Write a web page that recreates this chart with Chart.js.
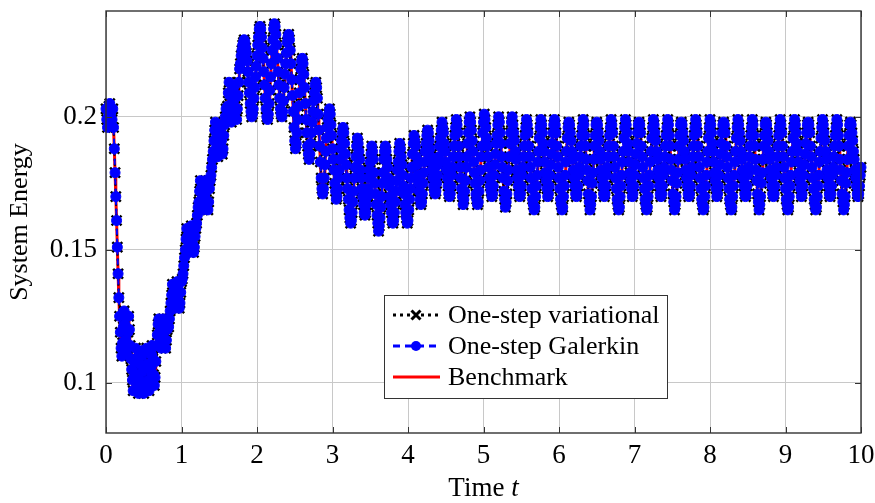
<!DOCTYPE html>
<html>
<head>
<meta charset="utf-8">
<title>System Energy</title>
<script src="https://cdn.jsdelivr.net/npm/chart.js@4.4.1/dist/chart.umd.min.js"></script>
<style>
  html, body { margin: 0; padding: 0; background: #fff; }
  #wrap { width: 875px; height: 503px; }
</style>
</head>
<body>
<div id="wrap"><canvas id="energyChart" width="875" height="503"></canvas></div>
<script>
// Sampling of the curves
const startTime = 0;
const timeStep = 0.01;

// System energy (one value per time step).
// The two one-step schemes and the benchmark lie on top of each other,
// so all three curves use these readings.
const energy = [
  // t = 0.00 .. 0.17 : start and fast drop
  0.203, 0.199, 0.196, 0.200, 0.204, 0.205, 0.201, 0.197, 0.199, 0.203,
  0.196, 0.188, 0.179, 0.170, 0.161, 0.151, 0.141, 0.132,
  // t = 0.18 .. 1.77 : staircase
  0.125, 0.119, 0.113, 0.110, 0.115, 0.121, 0.127, 0.122, 0.116, 0.111,
  0.113, 0.119, 0.125, 0.120, 0.114, 0.109, 0.105, 0.101,
  0.097, 0.102, 0.108, 0.113, 0.109, 0.103, 0.098, 0.096, 0.101, 0.107,
  0.112, 0.110, 0.104, 0.099, 0.096, 0.100, 0.106, 0.112, 0.113, 0.107,
  0.101, 0.097, 0.099, 0.105, 0.111, 0.114, 0.109, 0.103, 0.099, 0.102,
  0.108, 0.114,
  0.118, 0.122, 0.124, 0.119, 0.115, 0.113, 0.117, 0.121, 0.124, 0.120,
  0.116, 0.113, 0.116, 0.120, 0.123, 0.121, 0.124, 0.127, 0.130,
  0.133, 0.137, 0.134, 0.130, 0.128, 0.131, 0.135, 0.138, 0.135, 0.131,
  0.128, 0.130, 0.134, 0.138, 0.139, 0.141, 0.144, 0.147,
  0.150, 0.154, 0.158, 0.155, 0.151, 0.149, 0.152, 0.156, 0.159, 0.156,
  0.152, 0.149, 0.151, 0.155, 0.158, 0.160, 0.163, 0.166,
  0.168, 0.172, 0.176, 0.173, 0.169, 0.165, 0.167, 0.171, 0.175, 0.176,
  0.172, 0.168, 0.165, 0.168, 0.173, 0.176, 0.178, 0.181, 0.184,
  0.187, 0.191, 0.195, 0.198, 0.194, 0.189, 0.185, 0.188, 0.193, 0.197,
  0.196, 0.191, 0.186, 0.188, 0.193, 0.197, 0.200, 0.203,
  0.199, 0.204, 0.209, 0.213, 0.208, 0.203, 0.198, 0.201, 0.206, 0.211,
  0.212, 0.207, 0.202, 0.199, 0.203, 0.208, 0.213, 0.218,
  // t = 1.78 .. 2.95 : peak
  0.220, 0.223, 0.225, 0.227, 0.228, 0.229, 0.228, 0.226,
  0.224, 0.221, 0.217, 0.213, 0.209, 0.205, 0.202, 0.200, 0.201, 0.203,
  0.207, 0.211, 0.215, 0.219, 0.223, 0.227, 0.230, 0.233, 0.234,
  0.233, 0.230, 0.226, 0.222, 0.217, 0.212, 0.207, 0.203, 0.200, 0.199,
  0.201, 0.205, 0.210, 0.215, 0.220, 0.225, 0.229, 0.233, 0.235,
  0.234, 0.231, 0.227, 0.222, 0.217, 0.212, 0.207, 0.203, 0.201, 0.200,
  0.202, 0.206, 0.211, 0.216, 0.220, 0.224, 0.228, 0.230, 0.231,
  0.229, 0.225, 0.220, 0.214, 0.208, 0.202, 0.196, 0.191, 0.188,
  0.190, 0.194, 0.199, 0.204, 0.209, 0.214, 0.218, 0.221, 0.222,
  0.220, 0.216, 0.211, 0.205, 0.199, 0.194, 0.189, 0.186, 0.184,
  0.186, 0.190, 0.194, 0.198, 0.202, 0.206, 0.209, 0.212, 0.213,
  0.211, 0.207, 0.201, 0.195, 0.189, 0.183, 0.177, 0.173, 0.171,
  0.173, 0.177, 0.182, 0.187, 0.192, 0.196, 0.199, 0.201,
  // t = 2.96 .. 10.00 : one row per fast oscillation
  0.203, 0.201, 0.197, 0.193, 0.188, 0.184, 0.180, 0.175, 0.172, 0.169, 0.170, 0.173, 0.177, 0.180, 0.184, 0.188, 0.191, 0.194,
  0.196, 0.194, 0.190, 0.186, 0.182, 0.177, 0.173, 0.169, 0.165, 0.162, 0.160, 0.161, 0.164, 0.168, 0.172, 0.177, 0.181, 0.185, 0.189,
  0.192, 0.190, 0.187, 0.184, 0.180, 0.177, 0.173, 0.170, 0.167, 0.164, 0.163, 0.164, 0.167, 0.170, 0.173, 0.177, 0.180, 0.183, 0.186,
  0.189, 0.187, 0.184, 0.179, 0.175, 0.171, 0.167, 0.163, 0.160, 0.157, 0.159, 0.162, 0.166, 0.170, 0.175, 0.179, 0.184, 0.187,
  0.189, 0.187, 0.184, 0.181, 0.177, 0.174, 0.170, 0.167, 0.164, 0.161, 0.160, 0.161, 0.164, 0.168, 0.172, 0.176, 0.180, 0.183, 0.187,
  0.190, 0.188, 0.185, 0.182, 0.178, 0.174, 0.171, 0.167, 0.164, 0.162, 0.160, 0.161, 0.165, 0.169, 0.173, 0.177, 0.181, 0.186, 0.190,
  0.193, 0.191, 0.189, 0.185, 0.182, 0.178, 0.175, 0.172, 0.169, 0.167, 0.168, 0.171, 0.175, 0.179, 0.183, 0.187, 0.190, 0.193,
  0.195, 0.194, 0.191, 0.188, 0.185, 0.183, 0.180, 0.177, 0.174, 0.172, 0.171, 0.172, 0.175, 0.178, 0.182, 0.185, 0.189, 0.192, 0.195,
  0.198, 0.196, 0.194, 0.190, 0.187, 0.183, 0.180, 0.177, 0.174, 0.171, 0.170, 0.171, 0.174, 0.178, 0.181, 0.185, 0.189, 0.193, 0.196,
  0.199, 0.197, 0.194, 0.189, 0.185, 0.181, 0.177, 0.173, 0.170, 0.167, 0.169, 0.172, 0.176, 0.181, 0.185, 0.190, 0.194, 0.198,
  0.200, 0.198, 0.195, 0.191, 0.187, 0.183, 0.179, 0.175, 0.171, 0.169, 0.167, 0.168, 0.172, 0.176, 0.180, 0.185, 0.189, 0.194, 0.198,
  0.201, 0.199, 0.196, 0.192, 0.189, 0.185, 0.181, 0.177, 0.174, 0.172, 0.170, 0.171, 0.174, 0.178, 0.182, 0.186, 0.190, 0.193, 0.197,
  0.200, 0.198, 0.194, 0.190, 0.185, 0.181, 0.177, 0.172, 0.169, 0.166, 0.168, 0.171, 0.176, 0.180, 0.185, 0.190, 0.194, 0.198,
  0.200, 0.197, 0.194, 0.191, 0.187, 0.184, 0.180, 0.177, 0.174, 0.171, 0.170, 0.171, 0.174, 0.178, 0.181, 0.185, 0.189, 0.193, 0.196,
  0.199, 0.197, 0.194, 0.189, 0.185, 0.181, 0.177, 0.173, 0.169, 0.167, 0.165, 0.166, 0.170, 0.174, 0.178, 0.183, 0.187, 0.192, 0.196,
  0.199, 0.197, 0.194, 0.190, 0.187, 0.183, 0.179, 0.176, 0.173, 0.170, 0.171, 0.174, 0.178, 0.182, 0.186, 0.190, 0.194, 0.197,
  0.199, 0.197, 0.194, 0.189, 0.185, 0.181, 0.177, 0.173, 0.169, 0.167, 0.165, 0.166, 0.170, 0.174, 0.178, 0.183, 0.187, 0.192, 0.196,
  0.198, 0.197, 0.194, 0.191, 0.187, 0.184, 0.180, 0.177, 0.174, 0.171, 0.170, 0.171, 0.174, 0.178, 0.181, 0.185, 0.189, 0.193, 0.196,
  0.199, 0.197, 0.193, 0.189, 0.184, 0.180, 0.176, 0.171, 0.168, 0.165, 0.167, 0.170, 0.175, 0.179, 0.184, 0.189, 0.193, 0.197,
  0.198, 0.197, 0.194, 0.191, 0.187, 0.184, 0.180, 0.177, 0.174, 0.171, 0.170, 0.171, 0.174, 0.178, 0.181, 0.185, 0.189, 0.193, 0.196,
  0.199, 0.197, 0.194, 0.189, 0.185, 0.181, 0.177, 0.173, 0.169, 0.167, 0.165, 0.166, 0.170, 0.174, 0.178, 0.183, 0.187, 0.192, 0.196,
  0.199, 0.197, 0.194, 0.190, 0.187, 0.183, 0.179, 0.176, 0.173, 0.170, 0.171, 0.174, 0.178, 0.182, 0.186, 0.190, 0.194, 0.197,
  0.198, 0.197, 0.194, 0.189, 0.185, 0.181, 0.177, 0.173, 0.169, 0.167, 0.165, 0.166, 0.170, 0.174, 0.178, 0.183, 0.187, 0.192, 0.196,
  0.199, 0.197, 0.194, 0.191, 0.187, 0.184, 0.180, 0.177, 0.174, 0.171, 0.170, 0.171, 0.174, 0.178, 0.181, 0.185, 0.189, 0.193, 0.196,
  0.199, 0.197, 0.193, 0.189, 0.184, 0.180, 0.176, 0.171, 0.168, 0.165, 0.167, 0.170, 0.175, 0.179, 0.184, 0.189, 0.193, 0.197,
  0.198, 0.197, 0.194, 0.191, 0.187, 0.184, 0.180, 0.177, 0.174, 0.171, 0.170, 0.171, 0.174, 0.178, 0.181, 0.185, 0.189, 0.193, 0.196,
  0.199, 0.197, 0.194, 0.189, 0.185, 0.181, 0.177, 0.173, 0.169, 0.167, 0.165, 0.166, 0.170, 0.174, 0.178, 0.183, 0.187, 0.192, 0.196,
  0.199, 0.197, 0.194, 0.190, 0.187, 0.183, 0.179, 0.176, 0.173, 0.170, 0.171, 0.174, 0.178, 0.182, 0.186, 0.190, 0.194, 0.197,
  0.198, 0.197, 0.194, 0.189, 0.185, 0.181, 0.177, 0.173, 0.169, 0.167, 0.165, 0.166, 0.170, 0.174, 0.178, 0.183, 0.187, 0.192, 0.196,
  0.199, 0.197, 0.194, 0.191, 0.187, 0.184, 0.180, 0.177, 0.174, 0.171, 0.170, 0.171, 0.174, 0.178, 0.181, 0.185, 0.189, 0.193, 0.196,
  0.199, 0.197, 0.193, 0.189, 0.184, 0.180, 0.176, 0.171, 0.168, 0.165, 0.167, 0.170, 0.175, 0.179, 0.184, 0.189, 0.193, 0.197,
  0.198, 0.197, 0.194, 0.191, 0.187, 0.184, 0.180, 0.177, 0.174, 0.171, 0.170, 0.171, 0.174, 0.178, 0.181, 0.185, 0.189, 0.193, 0.196,
  0.199, 0.197, 0.194, 0.189, 0.185, 0.181, 0.177, 0.173, 0.169, 0.167, 0.165, 0.166, 0.170, 0.174, 0.178, 0.183, 0.187, 0.192, 0.196,
  0.199, 0.197, 0.194, 0.190, 0.187, 0.183, 0.179, 0.176, 0.173, 0.170, 0.171, 0.174, 0.178, 0.182, 0.186, 0.190, 0.194, 0.197,
  0.198, 0.197, 0.194, 0.189, 0.185, 0.181, 0.177, 0.173, 0.169, 0.167, 0.165, 0.166, 0.170, 0.174, 0.178, 0.183, 0.187, 0.192, 0.196,
  0.199, 0.197, 0.194, 0.191, 0.187, 0.184, 0.180, 0.177, 0.174, 0.171, 0.170, 0.171, 0.174, 0.178, 0.181, 0.185, 0.189, 0.193, 0.196,
  0.199, 0.197, 0.193, 0.189, 0.184, 0.180, 0.176, 0.171, 0.168, 0.165, 0.167, 0.170, 0.175, 0.179, 0.184, 0.189, 0.193, 0.197,
  0.198, 0.197, 0.194, 0.191, 0.187, 0.184, 0.180, 0.177, 0.174, 0.171, 0.170, 0.171, 0.174, 0.178, 0.181
];

const seriesLabels = ['One-step variational', 'One-step Galerkin', 'Benchmark'];
const xTicks = [0, 1, 2, 3, 4, 5, 6, 7, 8, 9, 10];
const yTicks = [0.1, 0.15, 0.2];
const yTickLabels = ['0.1', '0.15', '0.2'];

const serif = '"Liberation Serif", "Times New Roman", serif';

function toPoints(values) {
    return values.map((e, i) => ({ x: startTime + i * timeStep, y: e }));
}

// box, inner tick marks and x title
const frame = {
    id: 'frame',
    afterDatasetsDraw(chart) {
        const { ctx, chartArea: a, scales } = chart;
        ctx.save();
        ctx.strokeStyle = '#333';
        ctx.lineWidth = 1;
        const len = 6;
        xTicks.forEach(v => {
            const px = Math.round(scales.x.getPixelForValue(v)) + 0.5;
            ctx.beginPath();
            ctx.moveTo(px, a.bottom); ctx.lineTo(px, a.bottom - len);
            ctx.moveTo(px, a.top); ctx.lineTo(px, a.top + len);
            ctx.stroke();
        });
        yTicks.forEach(v => {
            const py = Math.round(scales.y.getPixelForValue(v)) + 0.5;
            ctx.beginPath();
            ctx.moveTo(a.left, py); ctx.lineTo(a.left + len, py);
            ctx.moveTo(a.right, py); ctx.lineTo(a.right - len, py);
            ctx.stroke();
        });
        ctx.lineWidth = 1.4;
        ctx.strokeRect(a.left, a.top, a.right - a.left, a.bottom - a.top);

        // x axis title: "Time t" with italic t
        const cx = (a.left + a.right) / 2;
        const cy = 489;
        ctx.fillStyle = '#000';
        ctx.textBaseline = 'middle';
        ctx.font = '27px ' + serif;
        const w1 = ctx.measureText('Time ').width;
        ctx.font = 'italic 27px ' + serif;
        const w2 = ctx.measureText('t').width;
        const x0 = cx - (w1 + w2) / 2;
        ctx.textAlign = 'left';
        ctx.font = '27px ' + serif;
        ctx.fillText('Time ', x0, cy);
        ctx.font = 'italic 27px ' + serif;
        ctx.fillText('t', x0 + w1, cy);
        ctx.restore();
    }
};

// legend box drawn like the original: line sample + marker + label
const legendBox = {
    id: 'legendBox',
    afterDraw(chart) {
        const { ctx, chartArea: a } = chart;
        const w = 283, h = 103;
        const x0 = a.right - 194 - w;
        const y0 = a.bottom - 35 - h;
        ctx.save();
        ctx.fillStyle = '#fff';
        ctx.fillRect(x0, y0, w, h);
        ctx.strokeStyle = '#333';
        ctx.lineWidth = 1;
        ctx.strokeRect(x0 + 0.5, y0 + 0.5, w, h);

        const rows = [y0 + 20, y0 + 51, y0 + 82];
        const lx1 = x0 + 9, lx2 = x0 + 56, mx = x0 + 32;

        // variational
        ctx.strokeStyle = '#000';
        ctx.lineWidth = 3;
        ctx.setLineDash([3, 4]);
        ctx.beginPath(); ctx.moveTo(lx1, rows[0]); ctx.lineTo(lx2, rows[0]); ctx.stroke();
        ctx.setLineDash([]);
        ctx.beginPath();
        ctx.moveTo(mx - 4.5, rows[0] - 4.5); ctx.lineTo(mx + 4.5, rows[0] + 4.5);
        ctx.moveTo(mx - 4.5, rows[0] + 4.5); ctx.lineTo(mx + 4.5, rows[0] - 4.5);
        ctx.stroke();

        // Galerkin
        ctx.strokeStyle = '#0000ff';
        ctx.setLineDash([7, 5]);
        ctx.beginPath(); ctx.moveTo(lx1, rows[1]); ctx.lineTo(lx2, rows[1]); ctx.stroke();
        ctx.setLineDash([]);
        ctx.fillStyle = '#0000ff';
        ctx.beginPath(); ctx.arc(mx, rows[1], 5, 0, Math.PI * 2); ctx.fill();

        // benchmark
        ctx.strokeStyle = '#ff0000';
        ctx.lineWidth = 3;
        ctx.beginPath(); ctx.moveTo(lx1, rows[2]); ctx.lineTo(lx2, rows[2]); ctx.stroke();

        ctx.fillStyle = '#000';
        ctx.font = '26px ' + serif;
        ctx.textAlign = 'left';
        ctx.textBaseline = 'middle';
        seriesLabels.forEach((s, i) => ctx.fillText(s, x0 + 64, rows[i] + 1));
        ctx.restore();
    }
};

const ctx = document.getElementById('energyChart');

new Chart(ctx, {
    type: 'line',
    data: {
        datasets: [
            {
                label: seriesLabels[0],
                data: toPoints(energy),
                borderColor: '#000',
                borderWidth: 2,
                borderDash: [2, 3],
                borderJoinStyle: 'round',
                pointStyle: 'crossRot',
                pointRadius: 7,
                pointBorderWidth: 2.5,
                pointBorderColor: '#000',
                pointBackgroundColor: '#000',
                order: 1,
                clip: false
            },
            {
                label: seriesLabels[1],
                data: toPoints(energy),
                borderColor: '#0000ff',
                borderWidth: 2,
                borderDash: [6, 4],
                borderJoinStyle: 'round',
                pointStyle: 'circle',
                pointRadius: 5,
                pointBorderWidth: 1,
                pointBorderColor: '#0000ff',
                pointBackgroundColor: '#0000ff',
                order: 0,
                clip: false
            },
            {
                label: seriesLabels[2],
                data: toPoints(energy),
                borderColor: '#ff0000',
                borderWidth: 3,
                borderJoinStyle: 'round',
                borderCapStyle: 'round',
                pointRadius: 0,
                order: 2,
                clip: false
            }
        ]
    },
    options: {
        responsive: false,
        animation: false,
        events: [],
        layout: { padding: { top: 11, right: 14, left: 0, bottom: 0 } },
        plugins: {
            legend: { display: false },
            tooltip: { enabled: false }
        },
        scales: {
            x: {
                type: 'linear',
                min: 0,
                max: 10,
                afterFit(scale) {
                    scale.height = 70;
                    scale.paddingLeft = 0;
                    scale.paddingRight = 0;
                },
                afterBuildTicks(scale) { scale.ticks = xTicks.map(v => ({ value: v })); },
                grid: { color: '#c8c8c8', lineWidth: 1, drawTicks: false },
                border: { display: false },
                ticks: {
                    padding: 7,
                    color: '#000',
                    font: { family: serif, size: 27 },
                    maxRotation: 0,
                    callback: v => String(v)
                }
            },
            y: {
                type: 'linear',
                min: 0.0811,
                max: 0.2398,
                afterFit(scale) {
                    scale.width = 106;
                    scale.paddingTop = 0;
                    scale.paddingBottom = 0;
                },
                afterBuildTicks(scale) { scale.ticks = yTicks.map(v => ({ value: v })); },
                grid: { color: '#c8c8c8', lineWidth: 1, drawTicks: false },
                border: { display: false },
                title: {
                    display: true,
                    text: 'System Energy',
                    color: '#000',
                    font: { family: serif, size: 26 },
                    padding: { top: 5, bottom: 0 }
                },
                ticks: {
                    padding: 9,
                    color: '#000',
                    font: { family: serif, size: 27 },
                    callback: v => yTickLabels[yTicks.indexOf(v)] ?? ''
                }
            }
        }
    },
    plugins: [frame, legendBox]
});
</script>
</body>
</html>
